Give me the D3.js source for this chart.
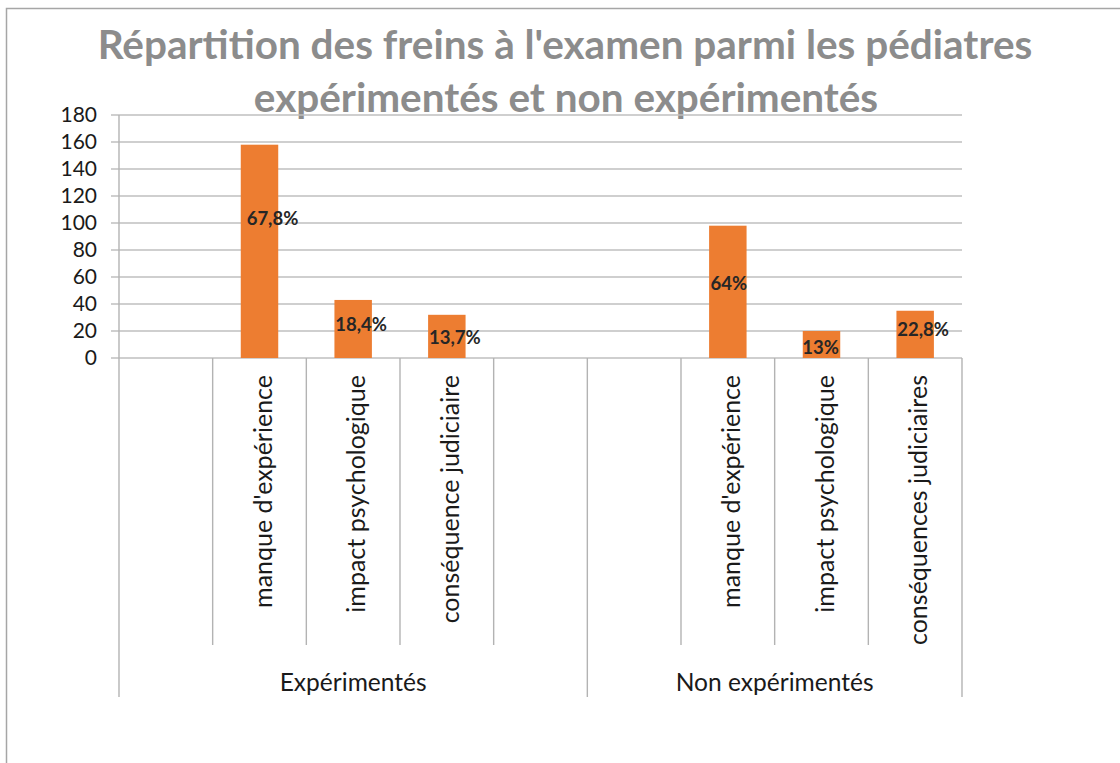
<!DOCTYPE html>
<html>
<head>
<meta charset="utf-8">
<script src="https://cdn.jsdelivr.net/npm/d3@7"></script>
<style>
  html, body { margin: 0; padding: 0; background: #fff; }
  svg { display: block; }
</style>
</head>
<body>
<svg id="chart" width="1120" height="763"></svg>
<script>
// ---- data ----
const titleLines = ["Répartition des freins à l'examen parmi les pédiatres", "expérimentés et non expérimentés"];
const groups = ["Expérimentés", "Non expérimentés"];
const groupCategories = [
  ["", "manque d'expérience", "impact psychologique", "conséquence judiciaire", ""],
  ["", "manque d'expérience", "impact psychologique", "conséquences judiciaires"]
];
const groupValues = [
  [null, 158, 43, 32, null],
  [null, 98, 20, 35]
];
const groupPercentLabels = [
  ["", "67,8%", "18,4%", "13,7%", ""],
  ["", "64%", "13%", "22,8%"]
];
const yTicks = [0, 20, 40, 60, 80, 100, 120, 140, 160, 180];

// ---- layout (label nudges as in the reference, in px) ----
const labelNudgeX = [[0, 13, 8, 8, 0], [0, 1, -1, 8]];
const labelNudgeY = [[0, -33, -5, 1, 0], [0, -9, 2, -5]];

const svg = d3.select("#chart");
const W = 1120, H = 763;
const plot = { left: 119, right: 962, top: 115, bottom: 358 };
const gridColor = "#bfbfbf";
const axisColor = "#b3b3b3";

// flatten
const rows = [];
groups.forEach((g, gi) => {
  groupCategories[gi].forEach((c, ci) => {
    rows.push({ key: gi + "-" + ci, group: g, gi, ci, cat: c,
      value: groupValues[gi][ci], label: groupPercentLabels[gi][ci],
      ndx: labelNudgeX[gi][ci], ndy: labelNudgeY[gi][ci] });
  });
});

const x = d3.scaleBand().domain(rows.map(r => r.key))
  .range([plot.left, plot.right]).paddingInner(0.6).paddingOuter(0.3);
const step = x.step();
const slotLeft = k => x(k) - x.paddingOuter() * step;
const y = d3.scaleLinear().domain([0, 180]).range([plot.bottom, plot.top]);

// chart border
svg.append("rect").attr("x", 6.5).attr("y", 8.5).attr("width", W + 20).attr("height", H + 20)
  .attr("fill", "none").attr("stroke", "#a6a6a6").attr("stroke-width", 1.5);

// fit helper
function fitFont(sel, target) {
  sel.style("font-size", "100px");
  const len = sel.node().getComputedTextLength();
  const size = 100 * target / len;
  sel.style("font-size", size + "px");
  return size;
}

// title
const t1 = svg.append("text").attr("x", 565).attr("y", 59).attr("text-anchor", "middle")
  .attr("font-family", "Lato, sans-serif").attr("font-weight", 700).attr("fill", "#8c8c8c")
  .text(titleLines[0]);
const tSize = fitFont(t1, 935);
svg.append("text").attr("x", 566).attr("y", 112).attr("text-anchor", "middle")
  .attr("font-family", "Lato, sans-serif").attr("font-weight", 700).attr("fill", "#8c8c8c")
  .style("font-size", tSize + "px").text(titleLines[1]);

// gridlines
const gGrid = svg.append("g");
gGrid.selectAll("line").data(yTicks).join("line")
  .attr("x1", plot.left - 8).attr("x2", plot.right)
  .attr("y1", d => y(d)).attr("y2", d => y(d))
  .attr("stroke", gridColor).attr("stroke-width", 1.4);

// y axis via d3 axis (labels only)
const yAxis = svg.append("g").attr("transform", `translate(${plot.left},0)`)
  .call(d3.axisLeft(y).tickValues(yTicks).tickSize(0).tickPadding(22));
yAxis.select(".domain").remove();
yAxis.selectAll("text").attr("font-family", "Lato, sans-serif").style("font-size", "21px")
  .attr("fill", "#1a1a1a");

// bars
svg.append("g").selectAll("rect").data(rows.filter(r => r.value != null)).join("rect")
  .attr("x", d => x(d.key)).attr("width", x.bandwidth())
  .attr("y", d => y(d.value)).attr("height", d => y(0) - y(d.value))
  .attr("fill", "#ED7D31");

// data labels
svg.append("g").selectAll("text").data(rows.filter(r => r.value != null)).join("text")
  .attr("x", d => x(d.key) + x.bandwidth() / 2 + d.ndx)
  .attr("y", d => (y(d.value) + y(0)) / 2 + d.ndy)
  .attr("text-anchor", "middle").attr("dominant-baseline", "central")
  .attr("font-family", "Lato, sans-serif").attr("font-weight", 700)
  .style("font-size", "18.5px").attr("fill", "#262626")
  .text(d => d.label);

// vertical axis line
svg.append("line").attr("x1", plot.left).attr("x2", plot.left)
  .attr("y1", plot.top).attr("y2", 697).attr("stroke", axisColor).attr("stroke-width", 1.4);

// category separators
const seps = [];
rows.forEach((r, i) => {
  if (i === 0) return;
  const isGroupStart = r.ci === 0;
  seps.push({ xpos: slotLeft(r.key), long: isGroupStart });
});
seps.push({ xpos: slotLeft(rows[rows.length - 1].key) + step, long: true });
svg.append("g").selectAll("line").data(seps).join("line")
  .attr("x1", d => d.xpos).attr("x2", d => d.xpos)
  .attr("y1", plot.bottom).attr("y2", d => d.long ? 697 : 645)
  .attr("stroke", axisColor).attr("stroke-width", 1.4);

// category labels (rotated)
const catG = svg.append("g");
const catTexts = catG.selectAll("text").data(rows.filter(r => r.cat)).join("text")
  .attr("transform", d => `translate(${slotLeft(d.key) + step / 2 + 2},375) rotate(-90)`)
  .attr("text-anchor", "end").attr("dominant-baseline", "central")
  .attr("font-family", "Lato, sans-serif").attr("fill", "#1a1a1a")
  .text(d => d.cat);
const catSize = fitFont(d3.select(catTexts.nodes()[0]), 233);
catTexts.style("font-size", catSize + "px");

// group labels
const gl = svg.append("g").selectAll("text").data(groups).join("text")
  .attr("x", (g, gi) => {
    const gr = rows.filter(r => r.gi === gi);
    return (slotLeft(gr[0].key) + slotLeft(gr[gr.length - 1].key) + step) / 2;
  })
  .attr("y", 681).attr("text-anchor", "middle").attr("dominant-baseline", "central")
  .attr("font-family", "Lato, sans-serif").attr("fill", "#1a1a1a")
  .text(g => g);
const gSize = fitFont(d3.select(gl.nodes()[0]), 147);
gl.style("font-size", gSize + "px");
</script>
</body>
</html>
